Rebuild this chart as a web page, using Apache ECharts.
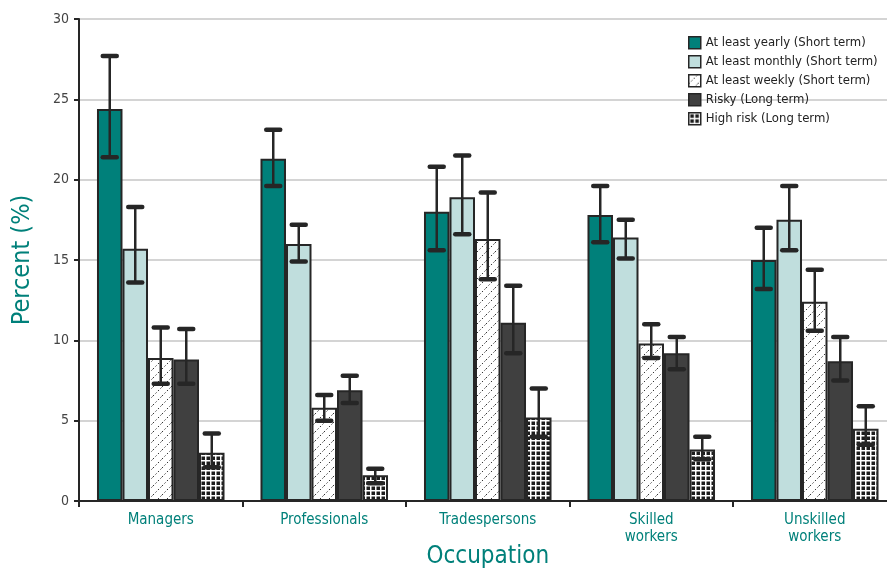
<!DOCTYPE html>
<html lang="en">
<head>
<meta charset="UTF-8">
<title>Occupation chart</title>
<script src="https://cdn.jsdelivr.net/npm/echarts@6/dist/echarts.min.js"></script>
<style>
  html, body { margin: 0; padding: 0; background: #fff; }
  #chart { width: 887px; height: 570px; }
</style>
</head>
<body>
<div id="chart"></div>
<script>
// categories and series
const occupations = ['Managers', 'Professionals', 'Tradespersons', 'Skilled\nworkers', 'Unskilled\nworkers'];
const seriesNames = ['At least yearly (Short term)', 'At least monthly (Short term)', 'At least weekly (Short term)', 'Risky (Long term)', 'High risk (Long term)'];

const yearly  = [24.4, 21.3, 18.0, 17.8, 15.0];
const monthly = [15.7, 16.0, 18.9, 16.4, 17.5];
const weekly  = [8.9, 5.8, 16.3, 9.8, 12.4];
const risky   = [8.8, 6.9, 11.1, 9.2, 8.7];
const highRisk = [3.0, 1.6, 5.2, 3.2, 4.5];

// error bars: [low, high]
const yearlyErr  = [[21.4, 27.7], [19.6, 23.1], [15.6, 20.8], [16.1, 19.6], [13.2, 17.0]];
const monthlyErr = [[13.6, 18.3], [14.9, 17.2], [16.6, 21.5], [15.1, 17.5], [15.6, 19.6]];
const weeklyErr  = [[7.3, 10.8], [5.0, 6.6], [13.8, 19.2], [8.9, 11.0], [10.6, 14.4]];
const riskyErr   = [[7.3, 10.7], [6.1, 7.8], [9.2, 13.4], [8.2, 10.2], [7.5, 10.2]];
const highRiskErr = [[2.1, 4.2], [1.1, 2.0], [4.0, 7.0], [2.6, 4.0], [3.5, 5.9]];

const yTicks = [0, 5, 10, 15, 20, 25, 30];

const values = [yearly, monthly, weekly, risky, highRisk];
const errors = [yearlyErr, monthlyErr, weeklyErr, riskyErr, highRiskErr];

const teal = '#00807a';
const ink = '#262626';

// hatch pattern for weekly
function hatchPattern() {
  const c = document.createElement('canvas');
  c.width = 9; c.height = 9;
  const g = c.getContext('2d');
  g.fillStyle = '#fff';
  g.fillRect(0, 0, 9, 9);
  g.strokeStyle = '#333';
  g.lineWidth = 1;
  g.setLineDash([1.5, 2]);
  g.beginPath();
  g.moveTo(0, 9); g.lineTo(9, 0);
  g.stroke();
  return c;
}
// grid pattern for high risk
function gridPattern() {
  const c = document.createElement('canvas');
  c.width = 5; c.height = 5;
  const g = c.getContext('2d');
  g.fillStyle = '#1c1c1c';
  g.fillRect(0, 0, 5, 5);
  g.fillStyle = '#fff';
  g.fillRect(0, 0, 5, 1.5);
  g.fillRect(0, 0, 1.5, 5);
  return c;
}

const fills = [
  teal,
  '#c0dedd',
  { image: hatchPattern(), repeat: 'repeat' },
  '#404040',
  { image: gridPattern(), repeat: 'repeat' }
];

const CAT_GAP = 0.22;

const chart = echarts.init(document.getElementById('chart'));

const barSeries = seriesNames.map((name, i) => ({
  name: name,
  type: 'bar',
  data: values[i],
  barGap: '0%',
  barCategoryGap: (CAT_GAP * 100) + '%',
  itemStyle: { color: fills[i], borderColor: ink, borderWidth: 2 },
  emphasis: { disabled: true },
  z: 2
}));

const errSeries = seriesNames.map((name, i) => ({
  type: 'custom',
  name: name + ' err',
  data: errors[i].map((e, k) => [k, e[0], e[1]]),
  z: 5,
  silent: true,
  renderItem: function (params, api) {
    const k = api.value(0);
    const band = api.size([1, 0])[0];
    const bw = band * (1 - CAT_GAP) / 5;
    const base = api.coord([k, 0]);
    const x = base[0] + (i - 2) * bw;
    const lo = api.coord([k, api.value(1)])[1];
    const hi = api.coord([k, api.value(2)])[1];
    const cap = 7;
    const st = { stroke: ink, lineWidth: 2.5 };
    const capSt = { stroke: ink, lineWidth: 4.5, lineCap: 'round' };
    return {
      type: 'group',
      children: [
        { type: 'line', shape: { x1: x, y1: hi, x2: x, y2: lo }, style: st },
        { type: 'line', shape: { x1: x - cap, y1: hi, x2: x + cap, y2: hi }, style: capSt },
        { type: 'line', shape: { x1: x - cap, y1: lo, x2: x + cap, y2: lo }, style: capSt }
      ]
    };
  }
}));

const font = '"DejaVu Sans Condensed", "DejaVu Sans", sans-serif';

const option = {
  animation: false,
  textStyle: { fontFamily: font },
  grid: { left: 79, top: 19, right: -9.5, bottom: 69, containLabel: false, outerBoundsMode: 'none' },
  legend: {
    data: seriesNames,
    orient: 'vertical',
    left: 683,
    top: 31,
    itemWidth: 12,
    itemHeight: 12,
    itemGap: 5.5,
    icon: 'rect',
    itemStyle: { borderColor: ink, borderWidth: 1.5 },
    textStyle: { fontFamily: font, fontSize: 13, color: '#222' }
  },
  xAxis: {
    type: 'category',
    data: occupations,
    name: 'Occupation',
    nameLocation: 'middle',
    nameGap: 44,
    nameMoveOverlap: false,
    nameTextStyle: { color: teal, fontSize: 24, fontFamily: font, verticalAlign: 'top' },
    axisLine: { lineStyle: { color: ink, width: 2 } },
    axisTick: { show: true, length: 6, lineStyle: { color: ink, width: 2 } },
    axisLabel: { color: teal, fontSize: 15, lineHeight: 17, margin: 11, interval: 0 },
    splitLine: { show: false }
  },
  yAxis: {
    type: 'value',
    min: 0,
    max: 30,
    interval: 5,
    name: 'Percent (%)',
    nameLocation: 'middle',
    nameGap: 44,
    nameRotate: 90,
    nameTextStyle: { color: teal, fontSize: 25, fontFamily: font },
    axisLine: { show: true, lineStyle: { color: ink, width: 2 } },
    axisTick: { show: true, length: 5, lineStyle: { color: ink, width: 2 } },
    axisLabel: {
      color: '#444', fontSize: 14, margin: 10,
      formatter: v => (yTicks.includes(v) ? String(v) : '')
    },
    splitLine: { lineStyle: { color: '#d4d4d4', width: 2 } }
  },
  series: barSeries.concat(errSeries)
};

chart.setOption(option);
</script>
</body>
</html>
